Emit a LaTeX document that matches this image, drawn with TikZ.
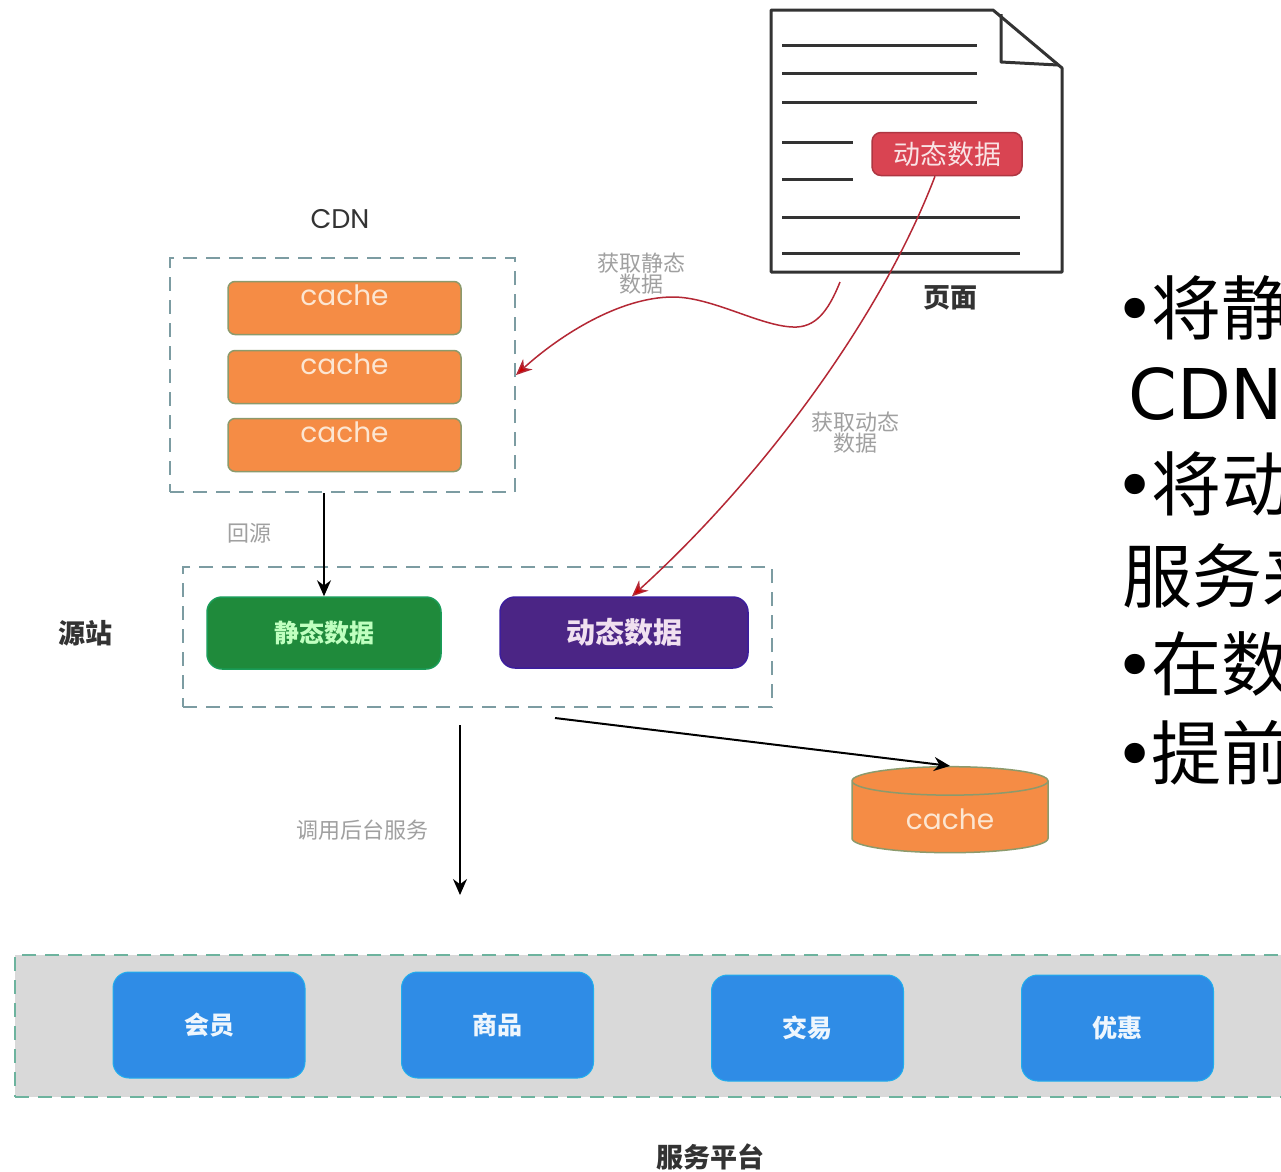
\documentclass[tikz,border=0pt]{standalone}
\usepackage{fontspec}
\setmainfont{Noto Sans CJK SC}
\newfontfamily\cjk{Noto Sans CJK SC}
\newfontfamily\geo{Poppins}
\newfontfamily\dejavu{DejaVu Sans}
\usetikzlibrary{arrows.meta,shapes.geometric}

\definecolor{cacheor}{HTML}{F58C45}
\definecolor{cacheln}{HTML}{8C9A6C}
\definecolor{cachetx}{HTML}{FCE6D2}
\definecolor{statgr}{HTML}{1F8A3B}
\definecolor{dynpu}{HTML}{4B2585}
\definecolor{svcbl}{HTML}{2F8CE6}
\definecolor{dynrd}{HTML}{D94452}
\definecolor{boxdash}{HTML}{7C9CA2}
\definecolor{banddash}{HTML}{6DB39E}
\definecolor{bandgr}{HTML}{D9D9D9}
\definecolor{notegr}{HTML}{A0A0A0}
\definecolor{arrrd}{HTML}{B42835}
\definecolor{inkgr}{HTML}{333333}

\tikzset{
	pageline/.style={draw=inkgr, line width=3pt, line join=round},
	txtline/.style={draw=inkgr, line width=3pt},
	groupbox/.style={draw=boxdash, line width=2pt, dash pattern=on 14pt off 9pt, inner sep=0pt},
	cachebox/.style={draw=cacheln, line width=1.5pt, fill=cacheor, rounded corners=7pt,
		minimum width=233pt, minimum height=53pt, text height=18pt, text depth=24pt,
		text=cachetx, font=\geo\fontsize{28}{28}\selectfont},
	databox/.style={line width=1.5pt, rounded corners=15pt, inner sep=0pt},
	svcbox/.style={fill=svcbl, draw=svcbl!70!cyan, line width=1pt, rounded corners=16pt,
		minimum width=192pt, minimum height=106pt, text=white!92!svcbl,
		font=\cjk\bfseries\fontsize{25}{25}\selectfont},
	title/.style={text=inkgr, font=\cjk\bfseries\fontsize{27}{27}\selectfont, inner sep=0pt},
	note/.style={text=notegr, font=\cjk\fontsize{22}{21}\selectfont, align=center, inner sep=0pt},
	redarrow/.style={draw=arrrd, line width=1.5pt, -{Stealth[length=16pt,width=14pt,fill=red!80!black]}},
	blackarrow/.style={draw=black, line width=2pt, -{Stealth[length=16pt,width=14pt]}},
	bigtxt/.style={anchor=base west, inner sep=0pt, text=black, font=\cjk\fontsize{70}{70}\selectfont}
}

\begin{document}
\begin{tikzpicture}[x=1pt,y=-1pt]

	\clip (0,0) rectangle (1281,1171);
	\fill[white] (0,0) rectangle (1281,1171);

	\draw[pageline] (771,10) -- (993,10) -- (1062,68) -- (1062,272) -- (771,272) -- cycle;
	\draw[pageline] (1001,14) -- (1001,62) -- (1058,65);
	\draw[txtline] (782,45) -- (977,45);
	\draw[txtline] (782,73) -- (977,73);
	\draw[txtline] (782,102) -- (977,102);
	\draw[txtline] (782,142) -- (853,142);
	\draw[txtline] (782,179) -- (853,179);
	\draw[txtline] (782,217) -- (1020,217);
	\draw[txtline] (782,253) -- (1020,253);

	\node[databox, fill=dynrd, draw=dynrd!80!black, rounded corners=9pt, minimum width=150pt, minimum height=43pt,
		text=white!85!dynrd, font=\cjk\fontsize{27}{27}\selectfont] (pgdyn) at (947,154) {动态数据};
	\node[title] (pglbl) at (950,298) {页面};
	\coordinate (pgfoot) at (840,282);

	\node[text=inkgr, font=\geo\fontsize{27}{27}\selectfont, inner sep=0pt] (cdnlbl) at (340,219) {CDN};
	\node[groupbox, minimum width=345pt, minimum height=234pt] (cdn) at (342.5,375) {};
	\node[cachebox] (c1) at (344.5,308) {cache};
	\node[cachebox] (c2) at (344.5,377) {cache};
	\node[cachebox] (c3) at (344.5,445) {cache};

	\node[title] (originlbl) at (85,633) {源站};
	\node[groupbox, minimum width=589pt, minimum height=140pt] (origin) at (477.5,637) {};
	\node[databox, fill=statgr, draw=statgr!85!cyan, minimum width=234pt, minimum height=72pt,
		text=green!25!white, font=\cjk\bfseries\fontsize{25}{25}\selectfont] (stat) at (324,633) {静态数据};
	\node[databox, fill=dynpu, draw=dynpu!80!blue, minimum width=248pt, minimum height=71pt,
		text=violet!12!white, font=\cjk\bfseries\fontsize{29}{29}\selectfont] (dyn) at (624,632.5) {动态数据};

	\node[shape=cylinder, shape border rotate=90, aspect=0.3, draw=cacheln, line width=1.5pt,
		cylinder uses custom fill, cylinder body fill=cacheor, cylinder end fill=cacheor,
		minimum width=196pt, minimum height=86pt, text=cachetx,
		font=\geo\fontsize{28}{28}\selectfont] (cyl) at (950,819) {cache};

	\node[note] (staticlbl) at (641,274) {获取静态\\数据};
	\node[note] (dynlbl) at (855,433) {获取动态\\数据};
	\node[note] (backlbl) at (249,533) {回源};
	\node[note] (calllbl) at (362,830) {调用后台服务};

	\coordinate (out1) at (555,718);
	\coordinate (call1) at (460,725);
	\coordinate (call2) at (460,895);

	\draw[redarrow] (pgfoot) .. controls (828,312) and (815,328) .. (793,327)
		.. controls (760,326) and (712,297) .. (673,297)
		.. controls (620,297) and (560,335) .. (cdn.east);
	\draw[redarrow] ([xshift=-12pt]pgdyn.south) .. controls (880,320) and (760,480) .. ([xshift=8pt]dyn.north);
	\draw[blackarrow] (cdn.south -| stat.north) -- (stat.north);
	\draw[blackarrow] (out1) -- (cyl.north);
	\draw[blackarrow] (call1) -- (call2);

	\node[fill=bandgr, draw=banddash, line width=2pt, dash pattern=on 14pt off 9pt,
		minimum width=1285pt, minimum height=142pt] (svc) at (657.5,1026) {};
	\node[svcbox] (member) at (209,1025) {会员};
	\node[svcbox] (goods) at (497.5,1025) {商品};
	\node[svcbox] (trade) at (807.5,1028) {交易};
	\node[svcbox] (promo) at (1117.5,1028) {优惠};
	\node[title] (svclbl) at (710,1157) {服务平台};

	\node[bigtxt] (t1) at (1120,334) {{\dejavu\kern-6pt•\kern-4pt}将静};
	\node[bigtxt, font=\dejavu\fontsize{70}{70}\selectfont] (t2) at (1128,419) {CDN};
	\node[bigtxt] (t3) at (1120,510) {{\dejavu\kern-6pt•\kern-4pt}将动};
	\node[bigtxt] (t4) at (1122,602) {服务来};
	\node[bigtxt] (t5) at (1120,690) {{\dejavu\kern-6pt•\kern-4pt}在数};
	\node[bigtxt] (t6) at (1120,779) {{\dejavu\kern-6pt•\kern-4pt}提前};

\end{tikzpicture}
\end{document}
